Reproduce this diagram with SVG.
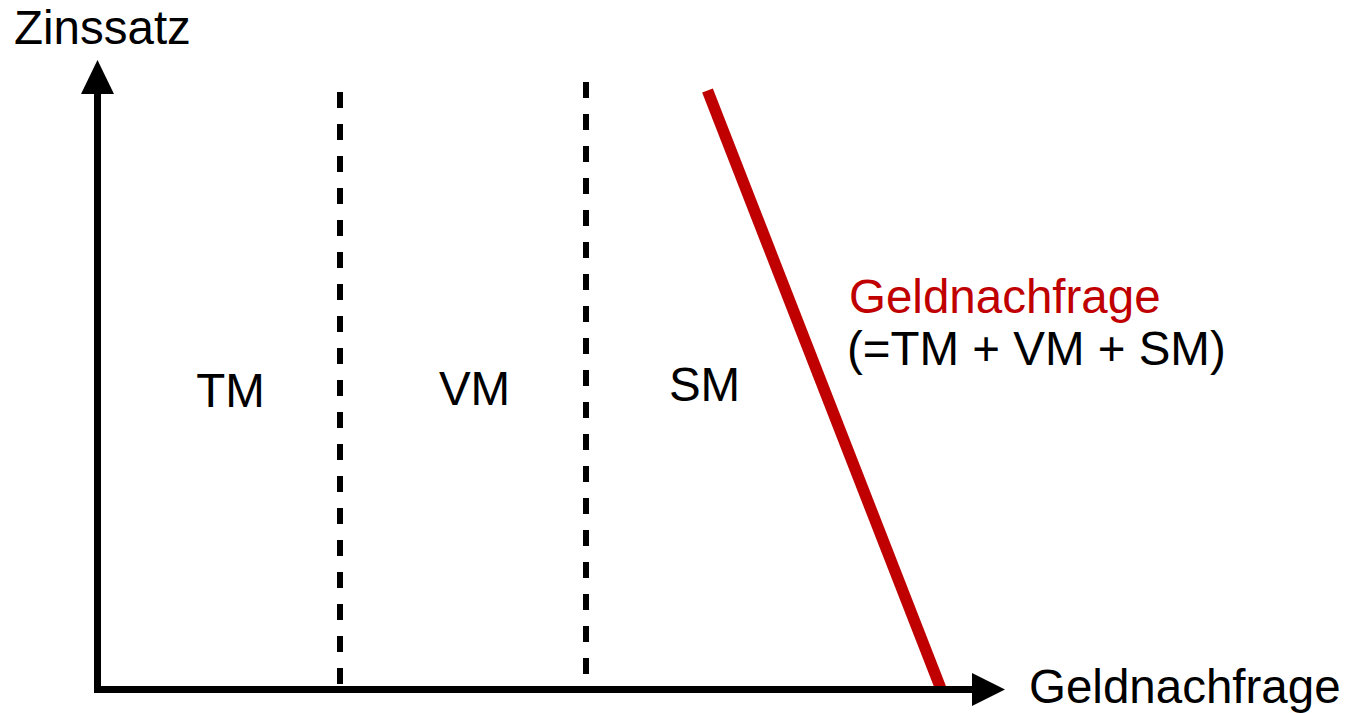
<svg xmlns="http://www.w3.org/2000/svg" width="1348" height="713" viewBox="0 0 1348 713">
<style>
text{font-family:"Liberation Sans",Arial,sans-serif;font-size:47.5px;fill:#000}
.red{fill:#C00000}
.axis{stroke:#000;stroke-width:7;fill:none}
.dash{stroke:#000;stroke-width:6;stroke-dasharray:16 16;fill:none}
</style>
<rect width="1348" height="713" fill="#fff"/>
<g id="demand-curve">
<line x1="707.5" y1="90.5" x2="941" y2="689" stroke="#C00000" stroke-width="11.5"/>
</g>
<g id="connectors">
<line class="dash" x1="340" y1="92" x2="340" y2="684"/>
<line class="dash" x1="586" y1="82" x2="586" y2="674"/>
</g>
<g id="axes">
<polyline class="axis" points="97.5,93 97.5,689.5 973,689.5" stroke-linejoin="miter"/>
<polygon points="97.5,60 81,94 114,94" fill="#000"/>
<polygon points="1005,689.5 972,673 972,706" fill="#000"/>
</g>
<g id="label-y"><text x="14" y="44">Zinssatz</text></g>
<g id="label-x"><text x="1029" y="703">Geldnachfrage</text></g>
<g id="label-tm"><text x="230.5" y="407" text-anchor="middle">TM</text></g>
<g id="label-vm"><text x="474.5" y="405" text-anchor="middle">VM</text></g>
<g id="label-sm"><text x="704.5" y="401" text-anchor="middle">SM</text></g>
<g id="label-curve">
<text x="849" y="313" class="red">Geldnachfrage</text>
<text x="847" y="365">(=TM + VM + SM)</text>
</g>
</svg>
